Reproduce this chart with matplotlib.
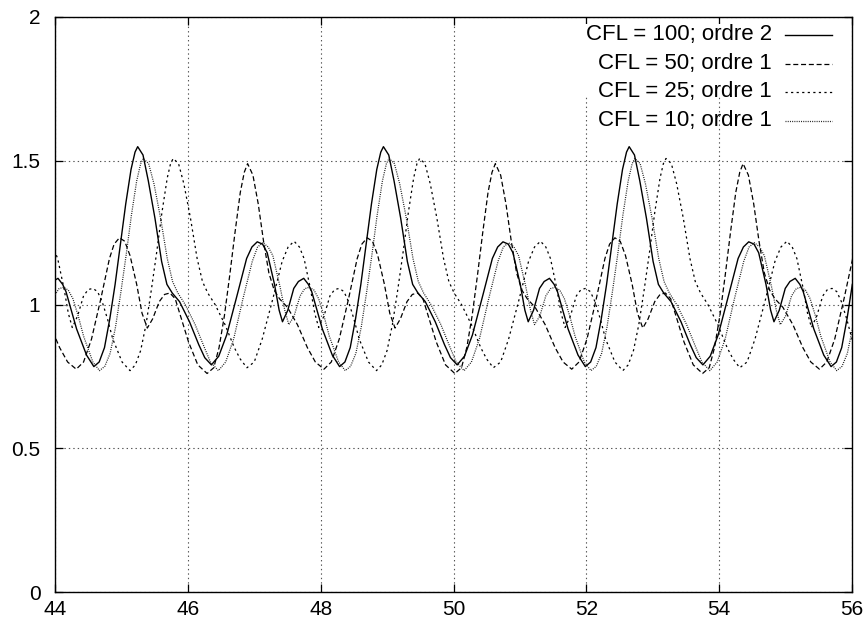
import matplotlib
matplotlib.use('Agg')
import matplotlib.pyplot as plt
from matplotlib.patches import Rectangle

plt.rcParams['font.family'] = ['Liberation Sans', 'DejaVu Sans']
plt.rcParams['lines.scale_dashes'] = False

# values, one line per period of the wave
x_cfl100 = [43.895, 43.965, 44.045, 44.115, 44.165, 44.245, 44.325, 44.475, 44.585, 44.665, 44.745, 44.825, 44.905, 44.985, 45.065, 45.145, 45.205,
            45.245, 45.325, 45.405, 45.505, 45.605, 45.685, 45.765, 45.875, 46.025, 46.165, 46.255, 46.355, 46.465, 46.585, 46.745, 46.885, 46.965, 47.045, 47.125, 47.195, 47.305, 47.375, 47.425, 47.505, 47.595, 47.665, 47.745, 47.815, 47.865, 47.945, 48.025, 48.175, 48.285, 48.365, 48.445, 48.525, 48.605, 48.685, 48.765, 48.845, 48.905,
            48.945, 49.025, 49.105, 49.205, 49.305, 49.385, 49.465, 49.575, 49.725, 49.865, 49.955, 50.055, 50.165, 50.285, 50.445, 50.585, 50.665, 50.745, 50.825, 50.895, 51.005, 51.075, 51.125, 51.205, 51.295, 51.365, 51.445, 51.515, 51.565, 51.645, 51.725, 51.875, 51.985, 52.065, 52.145, 52.225, 52.305, 52.385, 52.465, 52.545, 52.605,
            52.645, 52.725, 52.805, 52.905, 53.005, 53.085, 53.165, 53.275, 53.425, 53.565, 53.655, 53.755, 53.865, 53.985, 54.145, 54.285, 54.365, 54.445, 54.525, 54.595, 54.705, 54.775, 54.825, 54.905, 54.995, 55.065, 55.145, 55.215, 55.265, 55.345, 55.425, 55.575, 55.685, 55.765, 55.845, 55.925, 56.005]
y_cfl100 = [1.056, 1.08, 1.091, 1.07, 1.045, 0.98, 0.915, 0.824, 0.784, 0.80, 0.85, 0.95, 1.07, 1.21, 1.35, 1.47, 1.53,
            1.549, 1.52, 1.43, 1.30, 1.15, 1.07, 1.04, 1.01, 0.94, 0.86, 0.815, 0.79, 0.82, 0.894, 1.035, 1.16, 1.20, 1.218, 1.21, 1.18, 1.07, 0.98, 0.94, 0.98, 1.056, 1.08, 1.091, 1.07, 1.045, 0.98, 0.915, 0.824, 0.784, 0.80, 0.85, 0.95, 1.07, 1.21, 1.35, 1.47, 1.53,
            1.549, 1.52, 1.43, 1.30, 1.15, 1.07, 1.04, 1.01, 0.94, 0.86, 0.815, 0.79, 0.82, 0.894, 1.035, 1.16, 1.20, 1.218, 1.21, 1.18, 1.07, 0.98, 0.94, 0.98, 1.056, 1.08, 1.091, 1.07, 1.045, 0.98, 0.915, 0.824, 0.784, 0.80, 0.85, 0.95, 1.07, 1.21, 1.35, 1.47, 1.53,
            1.549, 1.52, 1.43, 1.30, 1.15, 1.07, 1.04, 1.01, 0.94, 0.86, 0.815, 0.79, 0.82, 0.894, 1.035, 1.16, 1.20, 1.218, 1.21, 1.18, 1.07, 0.98, 0.94, 0.98, 1.056, 1.08, 1.091, 1.07, 1.045, 0.98, 0.915, 0.824, 0.784, 0.80, 0.85, 0.95, 1.07]

x_cfl50 = [43.92, 44.07, 44.19, 44.32, 44.43, 44.55, 44.69, 44.82, 44.89, 44.97, 45.05, 45.13, 45.23, 45.31, 45.39, 45.47, 45.57, 45.65, 45.73, 45.81, 45.89, 46.01, 46.15, 46.29, 46.39, 46.47, 46.55, 46.63, 46.71, 46.79, 46.85,
           46.90, 46.98, 47.06, 47.14, 47.22, 47.30, 47.38, 47.50, 47.65, 47.80, 47.92, 48.05, 48.16, 48.28, 48.42, 48.55, 48.62, 48.70, 48.78, 48.86, 48.96, 49.04, 49.12, 49.20, 49.30, 49.38, 49.46, 49.54, 49.62, 49.74, 49.88, 50.02, 50.12, 50.20, 50.28, 50.36, 50.44, 50.52, 50.58,
           50.63, 50.71, 50.79, 50.87, 50.95, 51.03, 51.11, 51.23, 51.38, 51.53, 51.65, 51.78, 51.89, 52.01, 52.15, 52.28, 52.35, 52.43, 52.51, 52.59, 52.69, 52.77, 52.85, 52.93, 53.03, 53.11, 53.19, 53.27, 53.35, 53.47, 53.61, 53.75, 53.85, 53.93, 54.01, 54.09, 54.17, 54.25, 54.31,
           54.36, 54.44, 54.52, 54.60, 54.68, 54.76, 54.84, 54.96, 55.11, 55.26, 55.38, 55.51, 55.62, 55.74, 55.88, 56.01]
y_cfl50 = [0.93, 0.85, 0.80, 0.775, 0.80, 0.88, 1.02, 1.16, 1.21, 1.232, 1.22, 1.17, 1.07, 0.97, 0.918, 0.95, 1.01, 1.035, 1.04, 1.02, 0.96, 0.87, 0.79, 0.76, 0.78, 0.85, 0.96, 1.10, 1.25, 1.39, 1.46,
           1.49, 1.45, 1.35, 1.22, 1.11, 1.05, 1.02, 0.99, 0.93, 0.85, 0.80, 0.775, 0.80, 0.88, 1.02, 1.16, 1.21, 1.232, 1.22, 1.17, 1.07, 0.97, 0.918, 0.95, 1.01, 1.035, 1.04, 1.02, 0.96, 0.87, 0.79, 0.76, 0.78, 0.85, 0.96, 1.10, 1.25, 1.39, 1.46,
           1.49, 1.45, 1.35, 1.22, 1.11, 1.05, 1.02, 0.99, 0.93, 0.85, 0.80, 0.775, 0.80, 0.88, 1.02, 1.16, 1.21, 1.232, 1.22, 1.17, 1.07, 0.97, 0.918, 0.95, 1.01, 1.035, 1.04, 1.02, 0.96, 0.87, 0.79, 0.76, 0.78, 0.85, 0.96, 1.10, 1.25, 1.39, 1.46,
           1.49, 1.45, 1.35, 1.22, 1.11, 1.05, 1.02, 0.99, 0.93, 0.85, 0.80, 0.775, 0.80, 0.88, 1.02, 1.16]

x_cfl25 = [43.89, 43.97, 44.04, 44.14, 44.20, 44.26, 44.34, 44.43, 44.50, 44.57, 44.64, 44.71, 44.79, 44.87, 45.01, 45.13, 45.21, 45.29, 45.37, 45.45, 45.53, 45.61, 45.69, 45.74,
           45.78, 45.86, 45.94, 46.04, 46.14, 46.22, 46.30, 46.41, 46.56, 46.70, 46.79, 46.89, 47.00, 47.12, 47.28, 47.42, 47.51, 47.60, 47.68, 47.75, 47.85, 47.91, 47.97, 48.05, 48.14, 48.21, 48.28, 48.35, 48.42, 48.50, 48.58, 48.72, 48.84, 48.92, 49.00, 49.08, 49.16, 49.24, 49.32, 49.40, 49.45,
           49.49, 49.57, 49.65, 49.75, 49.85, 49.93, 50.01, 50.12, 50.27, 50.41, 50.50, 50.60, 50.71, 50.83, 50.99, 51.13, 51.22, 51.31, 51.39, 51.46, 51.56, 51.62, 51.68, 51.76, 51.85, 51.92, 51.99, 52.06, 52.13, 52.21, 52.29, 52.43, 52.55, 52.63, 52.71, 52.79, 52.87, 52.95, 53.03, 53.11, 53.16,
           53.20, 53.28, 53.36, 53.46, 53.56, 53.64, 53.72, 53.83, 53.98, 54.12, 54.21, 54.31, 54.42, 54.54, 54.70, 54.84, 54.93, 55.02, 55.10, 55.17, 55.27, 55.33, 55.39, 55.47, 55.56, 55.63, 55.70, 55.77, 55.84, 55.92, 56.00, 56.14]
y_cfl25 = [1.22, 1.20, 1.16, 1.05, 0.97, 0.92, 0.96, 1.03, 1.052, 1.056, 1.045, 1.01, 0.95, 0.88, 0.80, 0.77, 0.79, 0.84, 0.93, 1.05, 1.18, 1.32, 1.44, 1.49,
           1.508, 1.49, 1.42, 1.30, 1.16, 1.08, 1.04, 1.00, 0.93, 0.85, 0.81, 0.78, 0.80, 0.88, 1.02, 1.15, 1.20, 1.22, 1.20, 1.16, 1.05, 0.97, 0.92, 0.96, 1.03, 1.052, 1.056, 1.045, 1.01, 0.95, 0.88, 0.80, 0.77, 0.79, 0.84, 0.93, 1.05, 1.18, 1.32, 1.44, 1.49,
           1.508, 1.49, 1.42, 1.30, 1.16, 1.08, 1.04, 1.00, 0.93, 0.85, 0.81, 0.78, 0.80, 0.88, 1.02, 1.15, 1.20, 1.22, 1.20, 1.16, 1.05, 0.97, 0.92, 0.96, 1.03, 1.052, 1.056, 1.045, 1.01, 0.95, 0.88, 0.80, 0.77, 0.79, 0.84, 0.93, 1.05, 1.18, 1.32, 1.44, 1.49,
           1.508, 1.49, 1.42, 1.30, 1.16, 1.08, 1.04, 1.00, 0.93, 0.85, 0.81, 0.78, 0.80, 0.88, 1.02, 1.15, 1.20, 1.22, 1.20, 1.16, 1.05, 0.97, 0.92, 0.96, 1.03, 1.052, 1.056, 1.045, 1.01, 0.95, 0.88, 0.80]

x_cfl10 = [43.90, 43.99, 44.06, 44.13, 44.20, 44.27, 44.35, 44.43, 44.57, 44.67, 44.75, 44.83, 44.91, 44.99, 45.07, 45.15, 45.23, 45.29,
           45.33, 45.41, 45.49, 45.59, 45.69, 45.77, 45.85, 45.96, 46.11, 46.25, 46.34, 46.46, 46.57, 46.69, 46.83, 46.97, 47.05, 47.13, 47.21, 47.28, 47.39, 47.46, 47.52, 47.60, 47.69, 47.76, 47.83, 47.90, 47.97, 48.05, 48.13, 48.27, 48.37, 48.45, 48.53, 48.61, 48.69, 48.77, 48.85, 48.93, 48.99,
           49.03, 49.11, 49.19, 49.29, 49.39, 49.47, 49.55, 49.66, 49.81, 49.95, 50.04, 50.16, 50.27, 50.39, 50.53, 50.67, 50.75, 50.83, 50.91, 50.98, 51.09, 51.16, 51.22, 51.30, 51.39, 51.46, 51.53, 51.60, 51.67, 51.75, 51.83, 51.97, 52.07, 52.15, 52.23, 52.31, 52.39, 52.47, 52.55, 52.63, 52.69,
           52.73, 52.81, 52.89, 52.99, 53.09, 53.17, 53.25, 53.36, 53.51, 53.65, 53.74, 53.86, 53.97, 54.09, 54.23, 54.37, 54.45, 54.53, 54.61, 54.68, 54.79, 54.86, 54.92, 55.00, 55.09, 55.16, 55.23, 55.30, 55.37, 55.45, 55.53, 55.67, 55.77, 55.85, 55.93, 56.01]
y_cfl10 = [0.96, 1.03, 1.055, 1.06, 1.05, 1.02, 0.96, 0.89, 0.80, 0.77, 0.785, 0.83, 0.92, 1.04, 1.17, 1.31, 1.43, 1.49,
           1.508, 1.49, 1.42, 1.30, 1.16, 1.08, 1.04, 1.00, 0.93, 0.85, 0.80, 0.77, 0.80, 0.88, 1.02, 1.15, 1.20, 1.215, 1.20, 1.17, 1.06, 0.98, 0.93, 0.96, 1.03, 1.055, 1.06, 1.05, 1.02, 0.96, 0.89, 0.80, 0.77, 0.785, 0.83, 0.92, 1.04, 1.17, 1.31, 1.43, 1.49,
           1.508, 1.49, 1.42, 1.30, 1.16, 1.08, 1.04, 1.00, 0.93, 0.85, 0.80, 0.77, 0.80, 0.88, 1.02, 1.15, 1.20, 1.215, 1.20, 1.17, 1.06, 0.98, 0.93, 0.96, 1.03, 1.055, 1.06, 1.05, 1.02, 0.96, 0.89, 0.80, 0.77, 0.785, 0.83, 0.92, 1.04, 1.17, 1.31, 1.43, 1.49,
           1.508, 1.49, 1.42, 1.30, 1.16, 1.08, 1.04, 1.00, 0.93, 0.85, 0.80, 0.77, 0.80, 0.88, 1.02, 1.15, 1.20, 1.215, 1.20, 1.17, 1.06, 0.98, 0.93, 0.96, 1.03, 1.055, 1.06, 1.05, 1.02, 0.96, 0.89, 0.80, 0.77, 0.785, 0.83, 0.92]

labels = ['CFL = 100; ordre 2', 'CFL = 50; ordre 1', 'CFL = 25; ordre 1', 'CFL = 10; ordre 1']
x_ticks = [44, 46, 48, 50, 52, 54, 56]
y_ticks = [0, 0.5, 1, 1.5, 2]
y_tick_labels = ['0', '0.5', '1', '1.5', '2']

# gnuplot-like line types
styles = [
    dict(linestyle='-', linewidth=1.0, color='black'),
    dict(linestyle=(0, (3.6, 2.0)), linewidth=0.9, color='black'),
    dict(linestyle=(0, (1.6, 2.4)), linewidth=0.9, color='black'),
    dict(linestyle=(0, (0.7, 0.9)), linewidth=0.9, color='#1a1a1a'),
]

fig = plt.figure(figsize=(8.65, 6.2), dpi=100)
ax = fig.add_axes([55 / 865, 1 - 592 / 620, 797 / 865, 575 / 620])

series = [(x_cfl100, y_cfl100), (x_cfl50, y_cfl50), (x_cfl25, y_cfl25), (x_cfl10, y_cfl10)]
for (xs, ys), st in zip(series, styles):
    ax.plot(xs, ys, zorder=3, **st)

ax.set_xlim(44, 56)
ax.set_ylim(0, 2)
ax.set_xticks(x_ticks)
ax.set_yticks(y_ticks)
ax.set_yticklabels(y_tick_labels)
ax.tick_params(direction='in', length=6, width=0.9, top=True, right=True,
               labelsize=15, pad=5.5)
ax.tick_params(axis='y', pad=10.5)
ax.set_axisbelow(True)
ax.grid(True, linestyle=(0, (1, 2.2)), linewidth=0.8, color='#555555')
for sp in ax.spines.values():
    sp.set_linewidth(1.0)

# key, drawn by hand to get the right-aligned gnuplot look
ax.add_patch(Rectangle((0.656, 0.863), 0.336, 0.125, transform=ax.transAxes,
                       facecolor='white', edgecolor='none', zorder=1))
rows = [0.9687, 0.9191, 0.8696, 0.8200]
for lab, yy, st in zip(labels, rows, styles):
    ax.text(0.8996, yy, lab, transform=ax.transAxes, ha='right', va='center',
            fontsize=16, zorder=4)
    ax.plot([0.916, 0.975], [yy, yy], transform=ax.transAxes, clip_on=False,
            zorder=4, **st)

fig.savefig('out.png', dpi=100)
